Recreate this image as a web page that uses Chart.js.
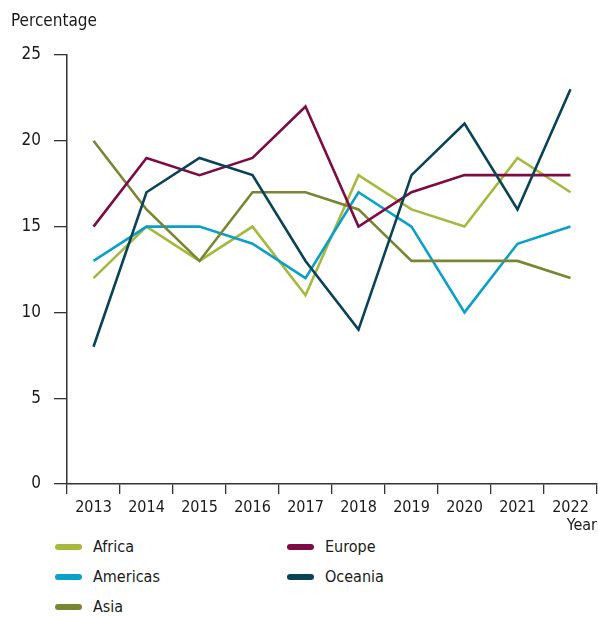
<!DOCTYPE html>
<html>
<head>
<meta charset="utf-8">
<script src="https://cdn.jsdelivr.net/npm/chart.js@4/dist/chart.umd.min.js"></script>
<style>
  body { margin: 0; background: #fff; font-family: "Liberation Sans Narrow", "DejaVu Sans Condensed", sans-serif; }
  #wrap { position: relative; width: 598px; height: 617px; }
  #box { position: absolute; left: 0; top: 0; width: 598px; height: 535px; }
  .leg { position: absolute; font-size: 16px; color: #1a1a1a; line-height: 20px; }
  .leg i { position: absolute; left: -38px; top: 7px; width: 27px; height: 6px; border-radius: 3px; }
</style>
</head>
<body>
<div id="wrap">
  <div id="box"><canvas id="chart1"></canvas></div>
  <div id="legend"></div>
</div>
<script>
"use strict";
var years = ["2013", "2014", "2015", "2016", "2017", "2018", "2019", "2020", "2021", "2022"];
var africa = [12, 15, 13, 15, 11, 18, 16, 15, 19, 17];
var europe = [15, 19, 18, 19, 22, 15, 17, 18, 18, 18];
var americas = [13, 15, 15, 14, 12, 17, 15, 10, 14, 15];
var oceania = [8, 17, 19, 18, 13, 9, 18, 21, 16, 23];
var asia = [20, 16, 13, 17, 17, 16, 13, 13, 13, 12];
var yTicks = [0, 5, 10, 15, 20, 25];

var font = "'Liberation Sans Narrow', 'DejaVu Sans Condensed', sans-serif";

var series = [
  { name: "Africa", data: africa, color: "#a6b93c" },
  { name: "Americas", data: americas, color: "#0aa0c8" },
  { name: "Asia", data: asia, color: "#7a8532" },
  { name: "Europe", data: europe, color: "#7e0b43" },
  { name: "Oceania", data: oceania, color: "#0a4355" }
];

// draw order as in the picture: light ones behind
var drawOrder = ["Africa", "Americas", "Asia", "Europe", "Oceania"];

// legend, two columns
var legendPos = {
  Africa: [93, 537], Americas: [93, 567], Asia: [93, 597],
  Europe: [325, 537], Oceania: [325, 567]
};
var legend = document.getElementById("legend");
series.forEach(function(s) {
  var d = document.createElement("div");
  d.className = "leg";
  d.style.left = legendPos[s.name][0] + "px";
  d.style.top = legendPos[s.name][1] + "px";
  d.innerHTML = '<i style="background:' + s.color + '"></i>' + s.name;
  legend.appendChild(d);
});

var yTitle = {
  id: "yTitle",
  afterDraw: function(chart) {
    var ctx = chart.ctx;
    ctx.save();
    ctx.font = "17px " + font;
    ctx.fillStyle = "#1a1a1a";
    ctx.textBaseline = "middle";
    ctx.textAlign = "left";
    ctx.fillText("Percentage", 11, 22);
    ctx.restore();
  }
};

var ctx = document.getElementById("chart1");
var myChart = new Chart(ctx, {
  type: "line",
  data: {
    labels: years,
    datasets: drawOrder.map(function(n, i) {
      var s = series.filter(function(x) { return x.name === n; })[0];
      return {
        label: s.name,
        data: s.data,
        borderColor: s.color,
        backgroundColor: s.color,
        borderWidth: 2.6,
        pointRadius: 0,
        tension: 0,
        order: drawOrder.length - i
      };
    })
  },
  options: {
    responsive: true,
    maintainAspectRatio: false,
    animation: false,
    layout: { padding: { top: 55, right: 1, left: 0, bottom: 0 } },
    plugins: {
      legend: { display: false },
      tooltip: { enabled: false }
    },
    scales: {
      x: {
        offset: true,
        grid: {
          offset: true,
          drawOnChartArea: false,
          drawTicks: true,
          tickLength: 10,
          color: "#333",
          lineWidth: 1.3
        },
        border: { color: "#333", width: 1.5 },
        ticks: {
          color: "#1a1a1a",
          padding: 4,
          maxRotation: 0,
          font: { family: font, size: 16 }
        },
        title: {
          display: true,
          text: "Year",
          align: "end",
          color: "#1a1a1a",
          padding: { top: 0, bottom: 0 },
          font: { family: font, size: 16 }
        },
        afterFit: function(scale) { scale.height = 51; }
      },
      y: {
        min: 0,
        max: 25,
        afterBuildTicks: function(scale) {
          scale.ticks = yTicks.map(function(v) { return { value: v }; });
        },
        grid: {
          drawOnChartArea: false,
          drawTicks: true,
          tickLength: 13,
          color: "#333",
          lineWidth: 1.3
        },
        border: { color: "#333", width: 1.5 },
        ticks: {
          color: "#1a1a1a",
          padding: 13,
          font: { family: font, size: 17 }
        },
        afterFit: function(scale) { scale.width = 67; }
      }
    }
  },
  plugins: [yTitle]
});
</script>
</body>
</html>
